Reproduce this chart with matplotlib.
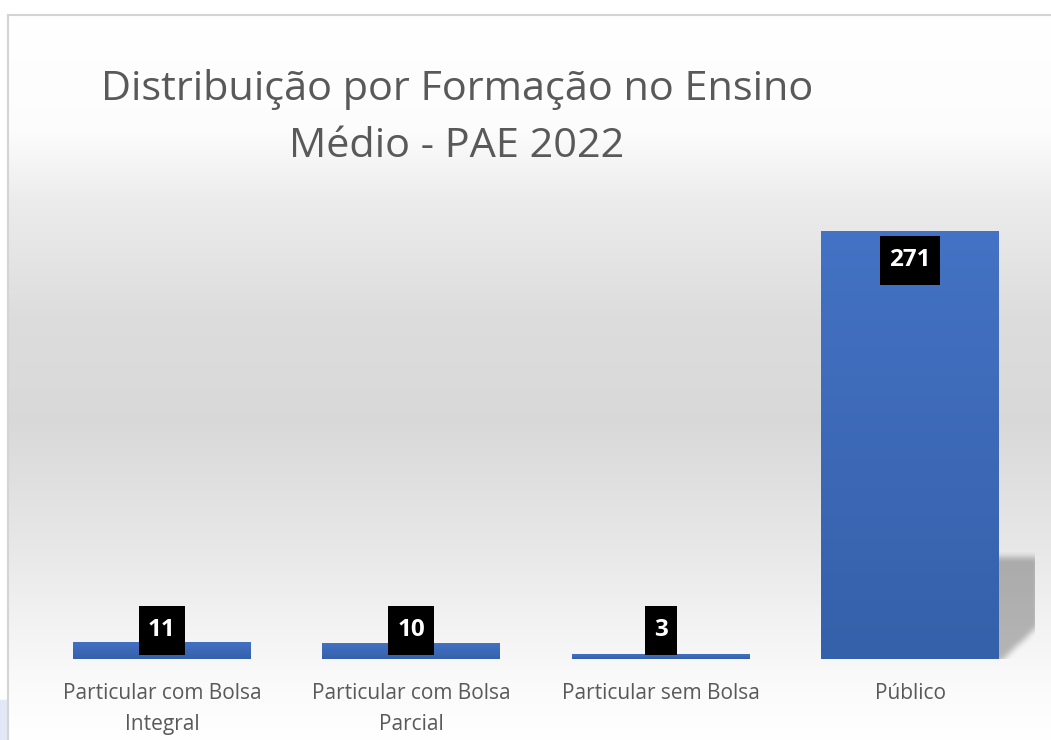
import numpy as np
import matplotlib
matplotlib.use('Agg')
import matplotlib.pyplot as plt
from matplotlib.colors import LinearSegmentedColormap
from matplotlib.patches import Rectangle

categories = ["Particular com Bolsa\nIntegral", "Particular com Bolsa\nParcial",
              "Particular sem Bolsa", "Público"]
values = [11, 10, 3, 271]
title_lines = ["Distribuição por Formação no Ensino", "Médio - PAE 2022"]

W, H = 1051, 740
FONT = ['Open Sans', 'DejaVu Sans']
TXT = '#595959'

fig = plt.figure(figsize=(W / 100, H / 100), dpi=100)
fig.patch.set_facecolor('white')

# ---- background panel with vertical gradient ----
bg = fig.add_axes([0, 0, 1, 1], zorder=-10)
bg.set_xlim(0, W)
bg.set_ylim(H, 0)
bg.axis('off')
ys = np.arange(15, H)
stops_y = [15, 130, 200, 320, 420, 540, 620, 680, 740]
stops_v = [1.0, 0.99, 0.925, 0.865, 0.85, 0.905, 0.95, 0.98, 1.0]
g = np.interp(ys, stops_y, stops_v)
img = np.repeat(g[:, None], 2, axis=1)
bg.imshow(np.dstack([img, img, img]), extent=(8, W, H, 15), aspect='auto',
          interpolation='bilinear')
bg.plot([8, 8], [15, H], color='#d4d4d4', lw=1.5)
bg.plot([8, W], [15, 15], color='#d4d4d4', lw=1.5)
bg.add_patch(Rectangle((0, 700), 7, 40, color='#e3e8f6'))
bg.set_xlim(0, W)
bg.set_ylim(H, 0)

# ---- main axes ----
ax_left, slot, base_px = 37.25, 249.375, 659
pxu = 428 / 271.0
ymax = 300
ax_h = pxu * ymax
ax = fig.add_axes([ax_left / W, (H - base_px) / H, 4 * slot / W, ax_h / H])
ax.patch.set_alpha(0)
for s in ax.spines.values():
    s.set_visible(False)

bw = 178 / slot
bars = ax.bar(range(len(values)), values, width=bw, color='#4472C4', zorder=2)

cmap = LinearSegmentedColormap.from_list('b', ['#3560AA', '#4472C4'])
grad = np.linspace(0, 1, 100)[:, None]
for b in bars:
    x0, y0, w, h = b.get_x(), b.get_y(), b.get_width(), b.get_height()
    im = ax.imshow(grad, extent=(x0, x0 + w, y0, y0 + h), origin='lower',
                   aspect='auto', cmap=cmap, zorder=3, interpolation='bilinear')
    im.set_clip_path(b)

# ---- shadow behind the tallest bar ----
def px2x(px):
    return (px - ax_left) / slot - 0.5

def px2y(py):
    return (base_px - py) / pxu

sx0, sx1, sy0, sy1 = 985, 1050, 535, 675
xx, yy = np.meshgrid(np.arange(sx0, sx1), np.arange(sy0, sy1))
mask = ((xx <= 1037) & (yy >= 557) & (yy <= 661) &
        (yy <= 661 - 0.95 * (xx - 1000))).astype(float)
k = np.ones(7) / 7
for _ in range(2):
    mask = np.apply_along_axis(lambda r: np.convolve(r, k, mode='same'), 1, mask)
    mask = np.apply_along_axis(lambda c: np.convolve(c, k, mode='same'), 0, mask)
shadow = np.zeros(mask.shape + (4,))
shadow[..., 3] = mask * 0.27
ax.imshow(shadow, extent=(px2x(sx0), px2x(sx1), px2y(sy1), px2y(sy0)),
          origin='upper', aspect='auto', zorder=1, interpolation='bilinear')

ax.set_xlim(-0.5, 3.5)
ax.set_ylim(0, ymax)
ax.set_yticks([])

# ---- data labels ----
for i, v in enumerate(values):
    top = v * pxu
    if top - 29.5 > 28.5:
        xy, off = (i, v), (0, -29.5)
    else:
        xy, off = (i, 0), (0, 28.5)
    t = ax.annotate(str(v), xy=xy, xytext=off, textcoords='offset pixels',
                    ha='center', va='center', color='white', fontsize=17.5,
                    fontweight='bold', family=FONT, zorder=5,
                    bbox=dict(boxstyle='square,pad=0.38', fc='black', ec='none'))
    t.get_bbox_patch().set_mutation_aspect(1.35)

# ---- tick labels ----
ax.set_xticks(range(len(categories)))
ax.set_xticklabels(categories)
ax.tick_params(axis='x', length=0, pad=17)
for lab in ax.get_xticklabels():
    lab.set_family(FONT)
    lab.set_fontsize(15)
    lab.set_color(TXT)
    lab.set_linespacing(1.65)

# ---- title ----
renderer = fig.canvas.get_renderer()
t1 = fig.text(457 / W, (H - 100) / H, title_lines[0], ha='center', va='baseline',
              fontsize=28, color=TXT, family=FONT)
wpx = t1.get_window_extent(renderer).width
t1.set_fontsize(28 * 713 / wpx)
fig.text(457 / W, (H - 157) / H, title_lines[1], ha='center', va='baseline',
         fontsize=t1.get_fontsize(), color=TXT, family=FONT)

fig.savefig('out.png', dpi=100)
